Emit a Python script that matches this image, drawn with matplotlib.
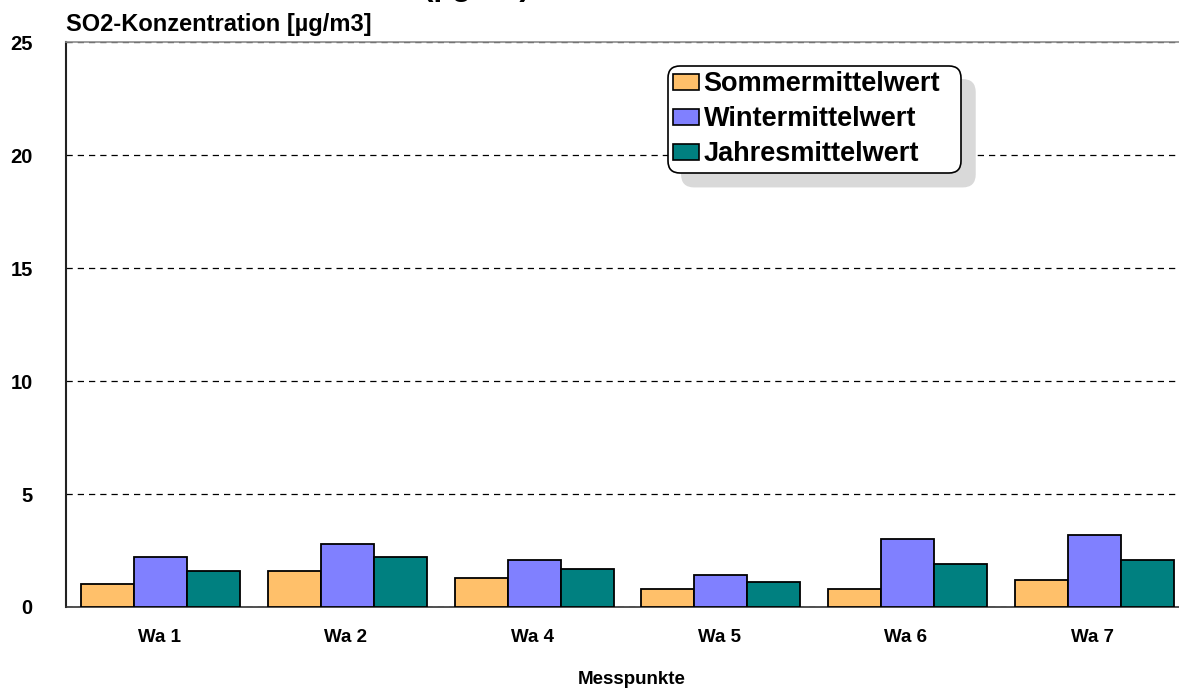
import matplotlib
matplotlib.use("Agg")
import matplotlib.pyplot as plt
import numpy as np
from matplotlib.patches import Patch

plt.rcParams['font.family'] = ['Liberation Sans', 'DejaVu Sans']
plt.rcParams['font.weight'] = 'bold'

# Messpunkte and mean SO2 concentrations
stations = ["Wa 1", "Wa 2", "Wa 4", "Wa 5", "Wa 6", "Wa 7"]
sommer = [1.0, 1.6, 1.3, 0.8, 0.8, 1.2]
winter = [2.2, 2.8, 2.1, 1.4, 3.0, 3.2]
jahr = [1.6, 2.2, 1.7, 1.1, 1.9, 2.1]
series_names = ["Sommermittelwert", "Wintermittelwert", "Jahresmittelwert"]
y_ticks = [0, 5, 10, 15, 20, 25]

colors = ["#FFC06A", "#8080FF", "#008080"]

W, H = 1179, 691
fig = plt.figure(figsize=(W / 100, H / 100), dpi=100)
ax = fig.add_axes([66 / W, (H - 607) / H, 1120 / W, (607 - 42) / H])

x = np.arange(len(stations))
bw = 0.284
for i, (vals, c) in enumerate(zip([sommer, winter, jahr], colors)):
    ax.bar(x + (i - 1) * bw + 0.008, vals, width=bw, color=c, edgecolor="black",
           linewidth=1.3, zorder=3)

ax.set_xlim(-0.5, len(stations) - 0.5)
ax.set_ylim(0, 25)
ax.set_yticks(y_ticks)
ax.set_yticklabels([str(t) for t in y_ticks], fontsize=14.5, fontweight='bold')
ax.set_xticks(x)
ax.set_xticklabels(stations, fontsize=13.5, fontweight='bold')
ax.tick_params(axis='both', length=0)
ax.tick_params(axis='y', pad=24)
ax.tick_params(axis='x', pad=16)

ax.yaxis.grid(True, linestyle=(0, (5, 4)), color="black", linewidth=0.9, zorder=1)
ax.set_axisbelow(True)

ax.spines["right"].set_visible(False)
ax.spines["top"].set_color("#8c8c8c")
ax.spines["top"].set_linewidth(1.2)
ax.spines["left"].set_color("#222222")
ax.spines["left"].set_linewidth(1.5)
ax.spines["bottom"].set_color("#333333")
ax.spines["bottom"].set_linewidth(1.2)

ax.set_xlabel("Messpunkte", fontsize=13.5, fontweight='bold')
ax.xaxis.set_label_coords((632 - 66) / 1120, -(680 - 607) / (607 - 42))
ax.xaxis.label.set_verticalalignment('center')

fig.text(66 / W, 1 - 25 / H, "SO2-Konzentration [µg/m3]", fontsize=17,
         fontweight='bold', ha='left', va='center')

# chart title (mostly above the page edge)
fig.text(128 / W, 1 + 5.5 / H, "SO₂-Konzentration (µg/m³)", fontsize=23,
         fontweight='bold', ha='left', va='baseline')

handles = [Patch(facecolor=c, edgecolor="black", linewidth=1.2) for c in colors]
leg = ax.legend(handles, series_names, loc='upper left', mode='expand',
                bbox_to_anchor=(668 / W, 1 - 170 / H, 293 / W, 104 / H),
                bbox_transform=fig.transFigure,
                prop={'weight': 'bold', 'size': 19.5},
                handlelength=0.96, handleheight=0.52, handletextpad=0.15,
                labelspacing=0.33, borderpad=0.2, borderaxespad=0,
                frameon=True, fancybox=True, framealpha=1,
                edgecolor="black",
                shadow={'ox': 10, 'oy': -10, 'facecolor': '#D9D9D9',
                        'edgecolor': '#D9D9D9', 'alpha': 1})
leg.get_frame().set_linewidth(1.2)
leg.get_frame().set_boxstyle('round', pad=0, rounding_size=0.45)
leg.set_zorder(5)

fig.savefig("out.png", dpi=100)
